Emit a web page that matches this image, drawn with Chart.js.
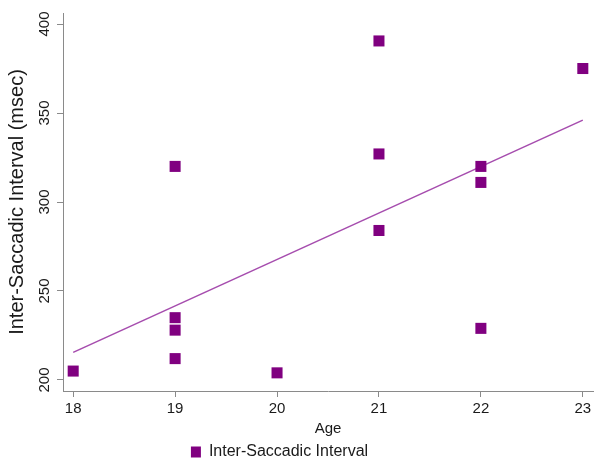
<!DOCTYPE html>
<html>
<head>
<meta charset="utf-8">
<script src="https://cdn.jsdelivr.net/npm/chart.js@4/dist/chart.umd.min.js"></script>
<style>
  html, body { margin: 0; padding: 0; background: #ffffff; }
  #wrap { width: 605px; height: 470px; }
</style>
</head>
<body>
<div id="wrap"><canvas id="c" width="605" height="470"></canvas></div>
<script>
// ---- data ----
const ages      = [18, 19, 19, 19, 19, 20, 21, 21, 21, 22, 22, 22, 23];
const intervals = [205, 320, 235, 228, 212, 204, 390.5, 327, 284, 320, 311, 229, 375];
const fitAges   = [18, 23];
const fitValues = [215.5, 346];
const xTicks    = [18, 19, 20, 21, 22, 23];
const yTicks    = [200, 250, 300, 350, 400];
const seriesName = 'Inter-Saccadic Interval';
const xTitle = 'Age';
const yTitle = 'Inter-Saccadic Interval (msec)';

const FONT = "'Liberation Sans', Arial, Helvetica, sans-serif";
const AXIS = '#8a8a8a';
const TEXT = '#1a1a1a';
const MARK = '#800080';
const FIT  = '#a64dae';

const scatterPts = ages.map((a, i) => ({ x: a, y: intervals[i] }));
const fitPts = fitAges.map((a, i) => ({ x: a, y: fitValues[i] }));

const legendShift = {
  id: 'legendShift',
  afterLayout(chart) {
    const lg = chart.legend;
    if (lg) { lg.left -= 17; lg.right -= 17; }
  }
};

new Chart(document.getElementById('c'), {
  type: 'scatter',
  data: {
    datasets: [
      {
        label: seriesName,
        data: scatterPts,
        pointStyle: 'rect',
        pointRadius: 7.8,
        pointHoverRadius: 7.8,
        backgroundColor: MARK,
        borderColor: MARK,
        borderWidth: 0,
        order: 1
      },
      {
        label: 'fit',
        type: 'line',
        data: fitPts,
        borderColor: FIT,
        borderWidth: 1.6,
        pointRadius: 0,
        fill: false,
        order: 2
      }
    ]
  },
  options: {
    responsive: false,
    animation: false,
    layout: { padding: { left: 0, right: 12, top: 13, bottom: 0 } },
    plugins: {
      tooltip: { enabled: false },
      legend: {
        position: 'bottom',
        align: 'center',
        labels: {
          filter: (item) => item.datasetIndex === 0,
          boxWidth: 10,
          boxHeight: 11,
          padding: 10,
          color: TEXT,
          font: { family: FONT, size: 16 }
        }
      }
    },
    scales: {
      x: {
        type: 'linear',
        min: 17.9,
        max: 23.1,
        afterBuildTicks: (s) => { s.ticks = xTicks.map(v => ({ value: v })); },
        afterFit: (s) => { s.height = 43; },
        grid: { display: true, drawOnChartArea: false, drawTicks: true, tickLength: 6, color: AXIS, lineWidth: 1 },
        border: { display: true, color: AXIS, width: 1 },
        ticks: { color: TEXT, padding: 3, font: { family: FONT, size: 15 }, maxRotation: 0 },
        title: { display: true, text: xTitle, color: TEXT, font: { family: FONT, size: 15 }, padding: { top: 0, bottom: -4 } }
      },
      y: {
        type: 'linear',
        min: 193.8,
        max: 406.2,
        afterBuildTicks: (s) => { s.ticks = yTicks.map(v => ({ value: v })); },
        afterFit: (s) => { s.width = 63; },
        grid: { display: true, drawOnChartArea: false, drawTicks: true, tickLength: 6, color: AXIS, lineWidth: 1 },
        border: { display: true, color: AXIS, width: 1 },
        ticks: { color: TEXT, padding: 0, crossAlign: 'center', minRotation: 90, maxRotation: 90, font: { family: FONT, size: 15 } },
        title: { display: true, text: yTitle, color: TEXT, font: { family: FONT, size: 20 }, padding: { top: 5, bottom: 0 } }
      }
    }
  },
  plugins: [legendShift]
});
</script>
</body>
</html>
